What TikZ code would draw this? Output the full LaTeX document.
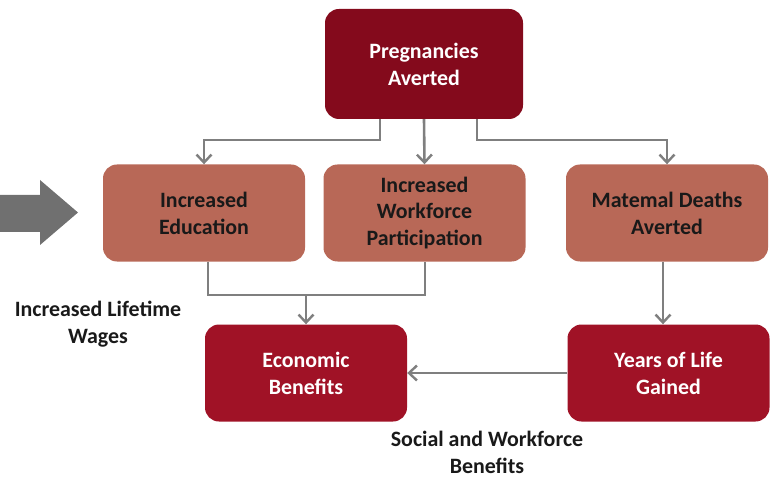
\documentclass[tikz,border=0pt]{standalone}
\usepackage{fontspec}
\setmainfont{Carlito}
\usetikzlibrary{arrows.meta}
\definecolor{topred}{HTML}{840A1C}
\definecolor{midbox}{HTML}{B86857}
\definecolor{lowred}{HTML}{A01226}
\definecolor{linegray}{HTML}{7F7F7F}
\definecolor{bigarrow}{HTML}{707070}
\begin{document}
\begin{tikzpicture}[x=1bp,y=-1bp,
  box/.style={rounded corners=14bp, minimum width=202bp, minimum height=97bp,
    align=center, font=\fontsize{22}{27}\selectfont\bfseries, inner sep=0pt},
  topbox/.style={box, fill=topred, text=white, minimum width=198bp, minimum height=110bp},
  midbx/.style={box, fill=midbox, text=black!90},
  lowbox/.style={box, fill=lowred, text=white},
  conn/.style={draw=linegray, line width=2.6bp},
  tip/.style={conn, -{Straight Barb[length=8bp,width=15bp,line width=2.4bp]}},
  caption/.style={align=center, font=\fontsize{22}{27}\selectfont\bfseries, text=black!90, inner sep=0pt}]
\useasboundingbox (0,0) rectangle (774,477);

% boxes
\node[topbox] (preg) at (424,64) {Pregnancies\\Averted};
\node[midbx] (edu) at (204,213) {Increased\\Education};
\node[midbx] (work) at (424.5,213) {Increased\\Workforce\\Participation};
\node[midbx] (mat) at (667,213) {Matemal Deaths\\Averted};
\node[lowbox] (econ) at (306,373) {Economic\\Benefits};
\node[lowbox] (years) at (668.5,373) {Years of Life\\Gained};

% big gray arrow on the left
\fill[bigarrow] (0,195) coordinate (ga) -- (40,195) -- (40,180) -- (78,212.5) -- (40,245) -- (40,232) -- (0,232) -- cycle;

% connectors from the top box
\coordinate (pl) at (380,140);
\coordinate (pr) at (477,140);
\draw[tip] (preg.south -| pl) -- (pl) -- (pl -| edu) -- (edu.north);
\draw[tip] (preg.south) -- (work.north);
\draw[tip] (preg.south -| pr) -- (pr) -- (pr -| mat) -- (mat.north);

% merge of education and workforce into economic benefits
\coordinate (ml) at (208,295);
\coordinate (mr) at (425,295);
\draw[conn] (edu.south -| ml) -- (ml) -- (mr) -- (work.south -| mr);
\draw[tip] (econ.north |- ml) -- (econ.north);

% right-hand chain
\draw[tip] (mat.south -| 663,0) -- (years.north -| 663,0);
\draw[tip] (years.west |- 0,373) -- (econ.east |- 0,373);

% captions
\node[caption] (wages) at (98,324) {Increased Lifetime\\Wages};
\node[caption] (social) at (487,452) {Social and Workforce\\Benefits};
\end{tikzpicture}
\end{document}
